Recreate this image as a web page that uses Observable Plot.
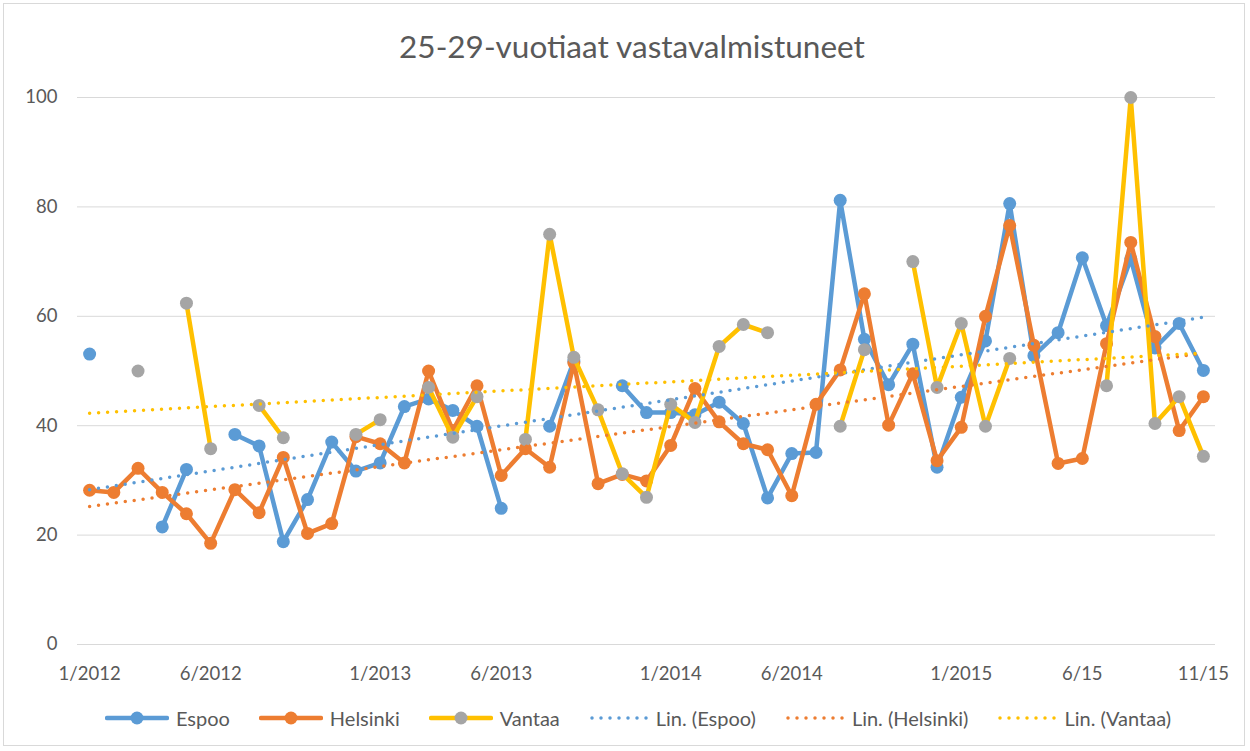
<!DOCTYPE html>
<html>
<head>
<meta charset="utf-8">
<script src="https://cdn.jsdelivr.net/npm/d3@7"></script>
<script src="https://cdn.jsdelivr.net/npm/@observablehq/plot@0.6"></script>
<style>
  body { margin: 0; background: #fff; }
  #chart { position: relative; width: 1250px; height: 751px; overflow: hidden; font-family: Lato, "Open Sans", sans-serif; color: #595959; background: #fff; }
  #frame { position: absolute; left: 3px; top: 3px; width: 1242px; height: 743px; border: 1px solid #d9d9d9; box-sizing: border-box; }
  #title { position: absolute; left: 0; width: 1264px; top: 28px; line-height: 36px; text-align: center; font-size: 31.5px; }
  #plot { position: absolute; left: 0; top: 0; }
  #legend { position: absolute; left: 13px; width: 1250px; top: 706px; line-height: 24px; height: 24px; display: flex; justify-content: center; align-items: center; font-size: 20px; }
  .item { display: flex; align-items: center; margin: 0 14.5px; }
  .item svg { margin-right: 7px; }
</style>
</head>
<body>
<div id="chart">
  <div id="frame"></div>
  <div id="title">25-29-vuotiaat vastavalmistuneet</div>
  <div id="plot"></div>
  <div id="legend"></div>
</div>
<script>
const months = [
  "1/2012","2/2012","3/2012","4/2012","5/2012","6/2012","7/2012","8/2012","9/2012","10/2012","11/2012","12/2012",
  "1/2013","2/2013","3/2013","4/2013","5/2013","6/2013","7/2013","8/2013","9/2013","10/2013","11/2013","12/2013",
  "1/2014","2/2014","3/2014","4/2014","5/2014","6/2014","7/2014","8/2014","9/2014","10/2014","11/2014","12/2014",
  "1/2015","2/2015","3/2015","4/2015","5/2015","6/2015","7/2015","8/2015","9/2015","10/2015","11/2015"
];
const tickMonths = ["1/2012","6/2012","1/2013","6/2013","1/2014","6/2014","1/2015","6/2015","11/2015"];
const tickLabels = ["1/2012","6/2012","1/2013","6/2013","1/2014","6/2014","1/2015","6/15","11/15"];
const yTicks = [0, 20, 40, 60, 80, 100];

const espoo = [
  53.1, null, null, 21.5, 32.0, null, 38.4, 36.3, 18.8, 26.5, 37.0, 31.7,
  33.2, 43.5, 44.9, 42.8, 39.9, 24.9, null, 39.9, 51.8, null, 47.3, 42.4,
  42.4, 42.0, 44.3, 40.4, 26.8, 34.9, 35.1, 81.2, 55.8, 47.5, 54.9, 32.4,
  45.2, 55.5, 80.6, 52.8, 57.0, 70.7, 58.3, 70.5, 54.2, 58.7, 50.1
];
const helsinki = [
  28.2, 27.8, 32.2, 27.8, 23.9, 18.5, 28.3, 24.1, 34.2, 20.3, 22.1, 38.0,
  36.7, 33.2, 50.0, 39.1, 47.3, 30.9, 35.8, 32.4, 51.5, 29.4, 31.1, 29.9,
  36.4, 46.8, 40.7, 36.7, 35.6, 27.2, 43.9, 50.2, 64.1, 40.1, 49.5, 33.6,
  39.7, 60.0, 76.6, 54.7, 33.1, 34.0, 55.0, 73.5, 56.3, 39.1, 45.3
];
const vantaa = [
  null, null, 50.0, null, 62.4, 35.8, null, 43.7, 37.8, null, null, 38.4,
  41.1, null, 47.0, 37.9, 45.3, null, 37.5, 75.0, 52.5, 42.9, 31.2, 26.9,
  43.9, 40.6, 54.5, 58.5, 57.0, null, null, 39.9, 53.9, null, 70.0, 47.0,
  58.7, 39.9, 52.3, null, null, null, 47.3, 100.0, 40.4, 45.3, 34.4
];

const seriesNames = ["Espoo", "Helsinki", "Vantaa"];
const lineColors = ["#5B9BD5", "#ED7D31", "#FFC000"];
const markerColors = ["#5B9BD5", "#ED7D31", "#A5A5A5"];
const trendNames = ["Lin. (Espoo)", "Lin. (Helsinki)", "Lin. (Vantaa)"];
const seriesValues = [espoo, helsinki, vantaa];

function rows(values) {
  return months.map((m, i) => ({ month: m, i: i + 1, value: values[i] == null ? NaN : values[i] }));
}
// Excel-style linear trendline over category index 1..N
function trend(values) {
  const pts = values.map((v, i) => [i + 1, v]).filter(d => d[1] != null);
  const mx = d3.mean(pts, d => d[0]), my = d3.mean(pts, d => d[1]);
  const b = d3.sum(pts, d => (d[0] - mx) * (d[1] - my)) / d3.sum(pts, d => (d[0] - mx) ** 2);
  const a = my - b * mx;
  return [
    { month: months[0], value: a + b * 1 },
    { month: months[months.length - 1], value: a + b * months.length }
  ];
}

const marks = [Plot.ruleY(yTicks, { stroke: "#d9d9d9", strokeWidth: 1 })];
seriesValues.forEach((vals, k) => {
  const data = rows(vals);
  marks.push(Plot.line(data, { x: "month", y: "value", stroke: lineColors[k], strokeWidth: 4.5, strokeLinejoin: "round", strokeLinecap: "round" }));
  marks.push(Plot.dot(data.filter(d => !isNaN(d.value)), { x: "month", y: "value", r: 6.5, fill: markerColors[k], stroke: "none" }));
});
seriesValues.forEach((vals, k) => {
  marks.push(Plot.line(trend(vals), { x: "month", y: "value", stroke: lineColors[k], strokeWidth: 3.5, strokeDasharray: "0 9", strokeLinecap: "round" }));
});

const chart = Plot.plot({
  width: 1250,
  height: 700,
  marginLeft: 77,
  marginRight: 35,
  marginTop: 97,
  marginBottom: 56,
  style: { fontFamily: "Lato, 'Open Sans', sans-serif", fontSize: "18.5px", color: "#595959", background: "transparent" },
  x: { type: "point", domain: months, padding: 0.5, round: false, ticks: tickMonths, tickFormat: d => tickLabels[tickMonths.indexOf(d)], tickSize: 0, tickPadding: 22, label: null },
  y: { domain: [0, 100], ticks: yTicks, tickSize: 0, tickPadding: 20, label: null },
  marks
});
document.getElementById("plot").appendChild(chart);

// Legend
const legend = document.getElementById("legend");
const ns = "http://www.w3.org/2000/svg";
function addItem(label, color, marker, dotted) {
  const item = document.createElement("div");
  item.className = "item";
  const svg = document.createElementNS(ns, "svg");
  svg.setAttribute("width", dotted ? 60 : 64);
  svg.setAttribute("height", 16);
  const ln = document.createElementNS(ns, "line");
  ln.setAttribute("x1", dotted ? 3 : 2); ln.setAttribute("x2", dotted ? 58 : 62);
  ln.setAttribute("y1", 8); ln.setAttribute("y2", 8);
  ln.setAttribute("stroke", color);
  ln.setAttribute("stroke-linecap", "round");
  if (dotted) { ln.setAttribute("stroke-width", 3.5); ln.setAttribute("stroke-dasharray", "0 9"); }
  else ln.setAttribute("stroke-width", 4.5);
  svg.appendChild(ln);
  if (marker) {
    const c = document.createElementNS(ns, "circle");
    c.setAttribute("cx", 32); c.setAttribute("cy", 8); c.setAttribute("r", 6.5);
    c.setAttribute("fill", marker);
    svg.appendChild(c);
  }
  item.appendChild(svg);
  const t = document.createElement("span");
  t.textContent = label;
  item.appendChild(t);
  legend.appendChild(item);
}
seriesNames.forEach((n, k) => addItem(n, lineColors[k], markerColors[k], false));
trendNames.forEach((n, k) => addItem(n, lineColors[k], null, true));
</script>
</body>
</html>
